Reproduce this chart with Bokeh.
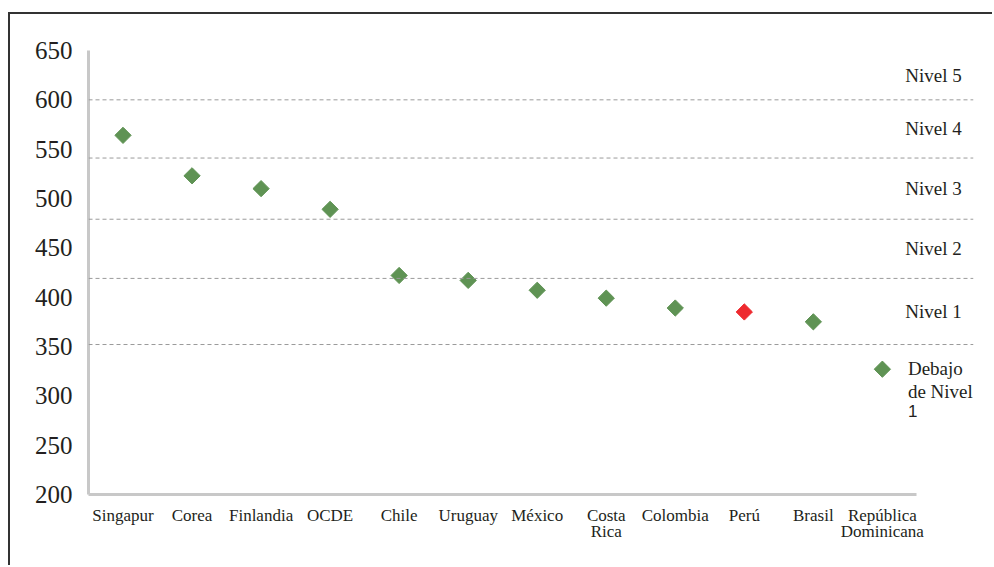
import numpy as np
from bokeh.plotting import figure
from bokeh.models import ColumnDataSource, Span, FixedTicker, Range1d
from bokeh.core.properties import value
from bokeh.embed import file_html
from bokeh.resources import INLINE

# ---- data ----
countries = ["Singapur", "Corea", "Finlandia", "OCDE", "Chile", "Uruguay", "México",
             "Costa\nRica", "Colombia", "Perú", "Brasil", "República\nDominicana"]
scores = [564, 523, 510, 489, 422, 417, 407, 399, 389, 385, 375, np.nan]
highlight = "Perú"
level_bounds = [352, 419, 479, 541, 600]
level_names = ["Nivel 1", "Nivel 2", "Nivel 3", "Nivel 4", "Nivel 5"]
y_ticks = [200, 250, 300, 350, 400, 450, 500, 550, 600, 650]
legend_text = "Debajo\nde Nivel"
legend_text_last = "1"
legend_y = 327

GREEN = "#5f9354"
RED = "#ee2a2f"
FONT = "Liberation Serif"
TXT = "#231f20"

n = len(countries)
idx = list(range(n))
colors = [RED if c == highlight else GREEN for c in countries]
src = ColumnDataSource(dict(x=idx, y=scores, color=colors))

p = figure(width=984, height=553, output_backend="svg", toolbar_location=None,
           x_range=Range1d(-0.5, n + 0.32), y_range=Range1d(200, 650),
           min_border_left=78, min_border_right=21, min_border_top=36, min_border_bottom=73)
p.styles = {"margin-left": "8px", "margin-top": "12px",
            "border-top": "2px solid #333333", "border-left": "2px solid #333333"}
p.outline_line_color = None
p.grid.visible = False
p.background_fill_color = "white"
p.border_fill_color = "white"

# level boundaries
for b in level_bounds:
    p.add_layout(Span(location=b, dimension="width", line_color="#9a9a9a",
                      line_dash="4 3", line_width=1))

# level labels at band midpoints
tops = level_bounds[1:] + [650]
mids = [(a + t) / 2 for a, t in zip(level_bounds, tops)]
lsrc = ColumnDataSource(dict(x=[n - 0.26] * len(level_names), y=mids, t=level_names))
p.text(x="x", y="y", text="t", source=lsrc, text_font=value(FONT),
       text_font_size="19px", text_color=TXT, text_align="center",
       text_baseline="middle")

p.scatter(x="x", y="y", source=src, marker="square", angle=np.pi / 4, size=11.5,
          fill_color="color", line_color="color")

# legend (drawn by hand so the marker sits at the first text line)
p.scatter(x=[n - 1], y=[legend_y], marker="square", angle=np.pi / 4, size=11.5,
          fill_color=GREEN, line_color=GREEN)
p.text(x=[n - 1 + 0.37], y=[legend_y], text=[legend_text], text_font=value(FONT),
       text_font_size="19px", text_color=TXT, text_align="left", text_baseline="middle",
       text_line_height=1.1, y_offset=11)
p.text(x=[n - 1 + 0.37], y=[legend_y], text=[legend_text_last],
       text_font=value("Liberation Sans"), text_font_size="17px", text_color=TXT,
       text_align="left", text_baseline="middle", y_offset=42)

# axes
p.yaxis.ticker = FixedTicker(ticks=y_ticks)
p.yaxis.bounds = (200, 650)
p.xaxis.ticker = FixedTicker(ticks=idx)
p.xaxis.bounds = (-0.5, n - 0.5)
p.xaxis.major_label_overrides = {i: c for i, c in enumerate(countries)}
for ax in (p.xaxis, p.yaxis):
    ax.axis_line_color = "#c8c8c8"
    ax.axis_line_width = 3
    ax.major_tick_line_color = None
    ax.minor_tick_line_color = None
    ax.major_label_text_font = FONT
    ax.major_label_text_color = TXT
p.yaxis.major_label_text_font_size = "25px"
p.yaxis.major_label_standoff = 10
p.xaxis.major_label_text_font_size = "17px"
p.xaxis.major_label_standoff = 5
p.xaxis.major_label_text_line_height = 0.85

open("out.html", "w").write(file_html(p, INLINE))
